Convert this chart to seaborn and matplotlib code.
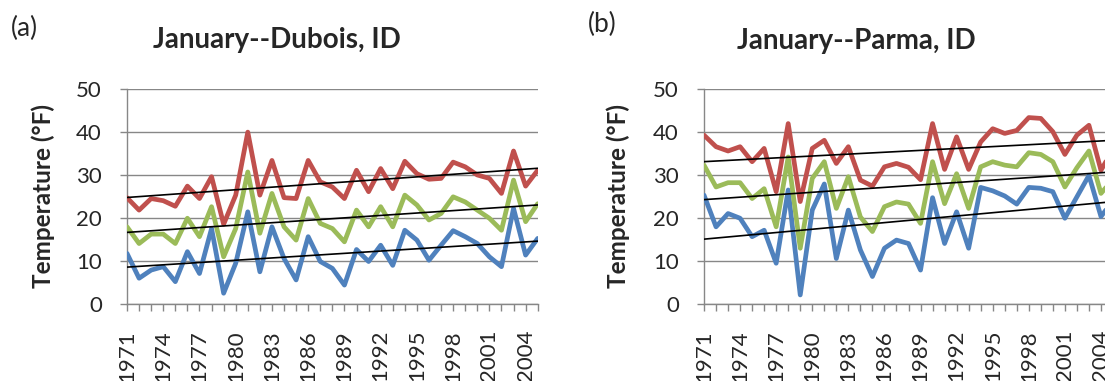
import numpy as np
import pandas as pd
import matplotlib
matplotlib.use("Agg")
import matplotlib.pyplot as plt
import seaborn as sns

# January temperatures (°F), 1971-2005
years = list(range(1971, 2006))

dubois_max = [24.7, 21.8, 24.5, 24.0, 22.7, 27.4, 24.5, 29.6, 18.5, 25.3, 40.0, 25.3,
              33.4, 24.7, 24.5, 33.4, 28.4, 27.2, 24.5, 31.1, 26.1, 31.5, 26.8, 33.2,
              30.3, 29.0, 29.2, 33.0, 31.9, 30.0, 29.2, 25.7, 35.6, 27.4, 31.1]
dubois_mean = [17.9, 14.0, 16.2, 16.2, 14.0, 19.9, 15.6, 22.6, 10.9, 17.5, 30.7, 16.4,
               25.7, 17.9, 14.8, 24.5, 18.7, 17.5, 14.4, 21.8, 17.9, 22.6, 17.9, 25.3,
               23.0, 19.5, 21.0, 24.9, 23.7, 21.8, 19.9, 17.1, 28.8, 19.1, 23.3]
dubois_min = [11.7, 5.9, 7.8, 8.6, 5.1, 12.1, 7.0, 17.5, 2.4, 9.4, 21.4, 7.4,
              17.9, 10.5, 5.5, 15.6, 9.8, 8.2, 4.3, 12.6, 9.8, 13.6, 8.9, 17.1,
              14.8, 10.1, 13.6, 17.0, 15.6, 14.0, 10.9, 8.6, 22.2, 11.3, 15.2]

parma_max = [39.3, 36.6, 35.6, 36.6, 33.1, 36.2, 26.1, 42.0, 23.8, 36.2, 38.1, 32.7,
             36.6, 28.8, 27.4, 31.9, 32.7, 31.8, 28.9, 42.0, 31.3, 38.9, 31.3, 37.7,
             40.8, 39.7, 40.4, 43.4, 43.2, 40.1, 34.8, 39.3, 41.6, 31.1, 36.0]
parma_mean = [32.3, 27.2, 28.2, 28.2, 24.5, 26.8, 17.9, 34.2, 12.9, 29.2, 33.1, 22.2,
              29.6, 20.2, 16.8, 22.6, 23.7, 23.2, 18.7, 33.1, 23.3, 30.3, 22.2, 31.9,
              33.1, 32.3, 31.9, 35.2, 34.8, 33.1, 27.2, 31.7, 35.6, 25.7, 29.0]
parma_min = [25.3, 17.9, 21.0, 19.9, 15.6, 17.1, 9.4, 26.5, 2.0, 21.8, 27.9, 10.5,
             21.8, 12.5, 6.3, 12.9, 14.8, 14.0, 7.8, 24.7, 14.0, 21.4, 12.9, 27.1,
             26.3, 25.1, 23.2, 27.1, 26.9, 26.1, 19.9, 24.9, 29.9, 20.3, 24.0]

series_names = ["Maximum", "Mean", "Minimum"]
series_colors = {"Maximum": "#C0504D", "Mean": "#9BBB59", "Minimum": "#4F81BD"}
tick_years = list(range(1971, 2005, 3))
y_ticks = [0, 10, 20, 30, 40, 50]

panels = [
    ("(a)", "January--Dubois, ID", [dubois_max, dubois_mean, dubois_min]),
    ("(b)", "January--Parma, ID", [parma_max, parma_mean, parma_min]),
]

sns.set_style("white")
plt.rcParams["font.family"] = ["Lato", "DejaVu Sans"]

GRID = "#878787"
W, H = 1105, 381
fig = plt.figure(figsize=(W / 100, H / 100), dpi=100)

# axes boxes in pixels: (left, right, top, bottom)
boxes = [(127, 537.7, 89.3, 303.5), (704, 1113, 89.3, 303.5)]
letter_pos = [(24, 28), (602, 24)]
title_pos = [(277, 40), (856, 41)]
ylabel_x = [43, 618]

for (letter, title, values), (l, r, t, b), lp, tp, yx in zip(
        panels, boxes, letter_pos, title_pos, ylabel_x):
    ax = fig.add_axes([l / W, 1 - b / H, (r - l) / W, (b - t) / H])

    df = pd.DataFrame({
        "Year": years * 3,
        "Temp": sum(values, []),
        "Series": [n for n in series_names for _ in years],
    })
    sns.lineplot(data=df, x="Year", y="Temp", hue="Series",
                 hue_order=series_names[::-1], palette=series_colors,
                 linewidth=3.4, legend=False, ax=ax, zorder=3)
    for vals in values:
        sns.regplot(x=np.array(years), y=np.array(vals), scatter=False, ci=None,
                    color="black", line_kws={"linewidth": 1.2, "zorder": 4}, ax=ax)

    ax.set_xlim(1971, 2005)
    ax.set_ylim(0, 50)
    ax.set_yticks(y_ticks)
    ax.set_xticks(years)
    ax.set_xticklabels([str(y) if y in tick_years else "" for y in years])
    ax.grid(axis="y", color=GRID, linewidth=1.0)
    ax.grid(axis="x", visible=False)
    ax.set_axisbelow(True)
    for side in ["top", "right"]:
        ax.spines[side].set_visible(False)
    for side in ["left", "bottom"]:
        ax.spines[side].set_color(GRID)
        ax.spines[side].set_linewidth(1.0)
    ax.tick_params(axis="x", length=5, width=1, color=GRID, pad=14,
                   labelsize=16, rotation=90, bottom=True)
    ax.tick_params(axis="y", length=5, width=1, color=GRID, pad=13,
                   labelsize=16, left=True)
    ax.set_xlabel("")
    ax.set_ylabel("")

    fig.text(lp[0] / W, 1 - lp[1] / H, letter, fontsize=19,
             ha="center", va="center")
    fig.text(tp[0] / W, 1 - tp[1] / H, title, fontsize=20, fontweight="bold",
             ha="center", va="center")
    fig.text(yx / W, 1 - (t + b) / 2 / H, "Temperature (°F)", fontsize=17.5,
             fontweight="bold", rotation=90, ha="center", va="center")

fig.savefig("out.png", dpi=100)
